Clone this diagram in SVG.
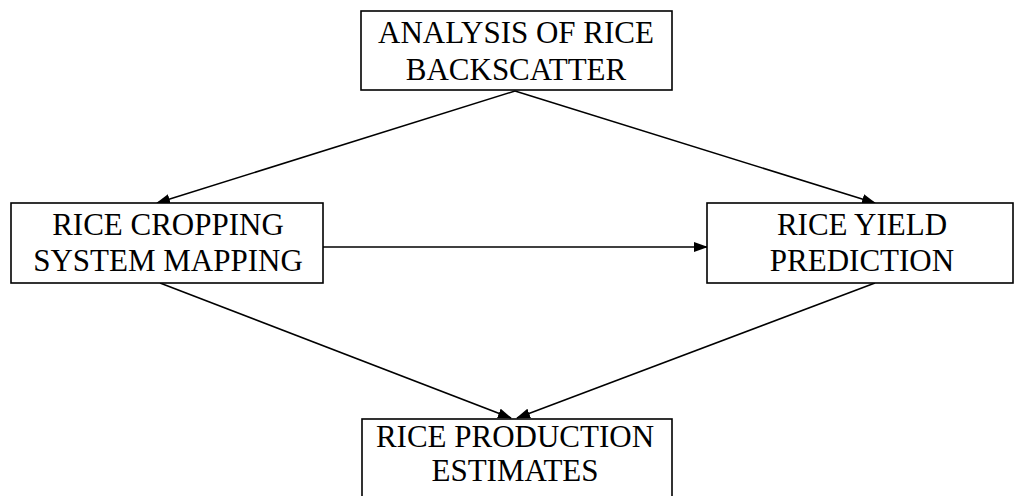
<svg xmlns="http://www.w3.org/2000/svg" width="1015" height="496" viewBox="0 0 1015 496">
<style>
.box{fill:#fff;stroke:#000;stroke-width:1.6}
.t{font-family:"Liberation Serif","Times New Roman",serif;font-size:31px;fill:#000;text-anchor:middle}
.c{stroke:#000;stroke-width:1.5;fill:none;marker-end:url(#ah)}
</style>
<defs>
<marker id="ah" markerWidth="14" markerHeight="10" refX="13" refY="5" orient="auto" markerUnits="userSpaceOnUse">
<path d="M0,0 L14,5 L0,10 Z" fill="#000"/>
</marker>
</defs>
<rect width="1015" height="496" fill="#fff"/>
<g id="connectors">
<line class="c" x1="515" y1="91" x2="157" y2="203"/>
<line class="c" x1="515" y1="91" x2="875" y2="203"/>
<line class="c" x1="323" y1="247" x2="707" y2="247"/>
<line class="c" x1="160" y1="283" x2="511" y2="418"/>
<line class="c" x1="875" y1="283" x2="517" y2="418"/>
</g>
<g id="n1">
<rect class="box" x="361" y="11" width="311" height="79"/>
<text class="t" x="516" y="43">ANALYSIS OF RICE</text>
<text class="t" x="516" y="80">BACKSCATTER</text>
</g>
<g id="n2">
<rect class="box" x="11" y="203" width="312" height="80"/>
<text class="t" x="168" y="235">RICE CROPPING</text>
<text class="t" x="168" y="271">SYSTEM MAPPING</text>
</g>
<g id="n3">
<rect class="box" x="707" y="203" width="306" height="80"/>
<text class="t" x="862" y="235">RICE YIELD</text>
<text class="t" x="862" y="271">PREDICTION</text>
</g>
<g id="n4">
<rect class="box" x="362" y="419" width="310" height="90"/>
<text class="t" x="515" y="447">RICE PRODUCTION</text>
<text class="t" x="515" y="481">ESTIMATES</text>
</g>
</svg>
